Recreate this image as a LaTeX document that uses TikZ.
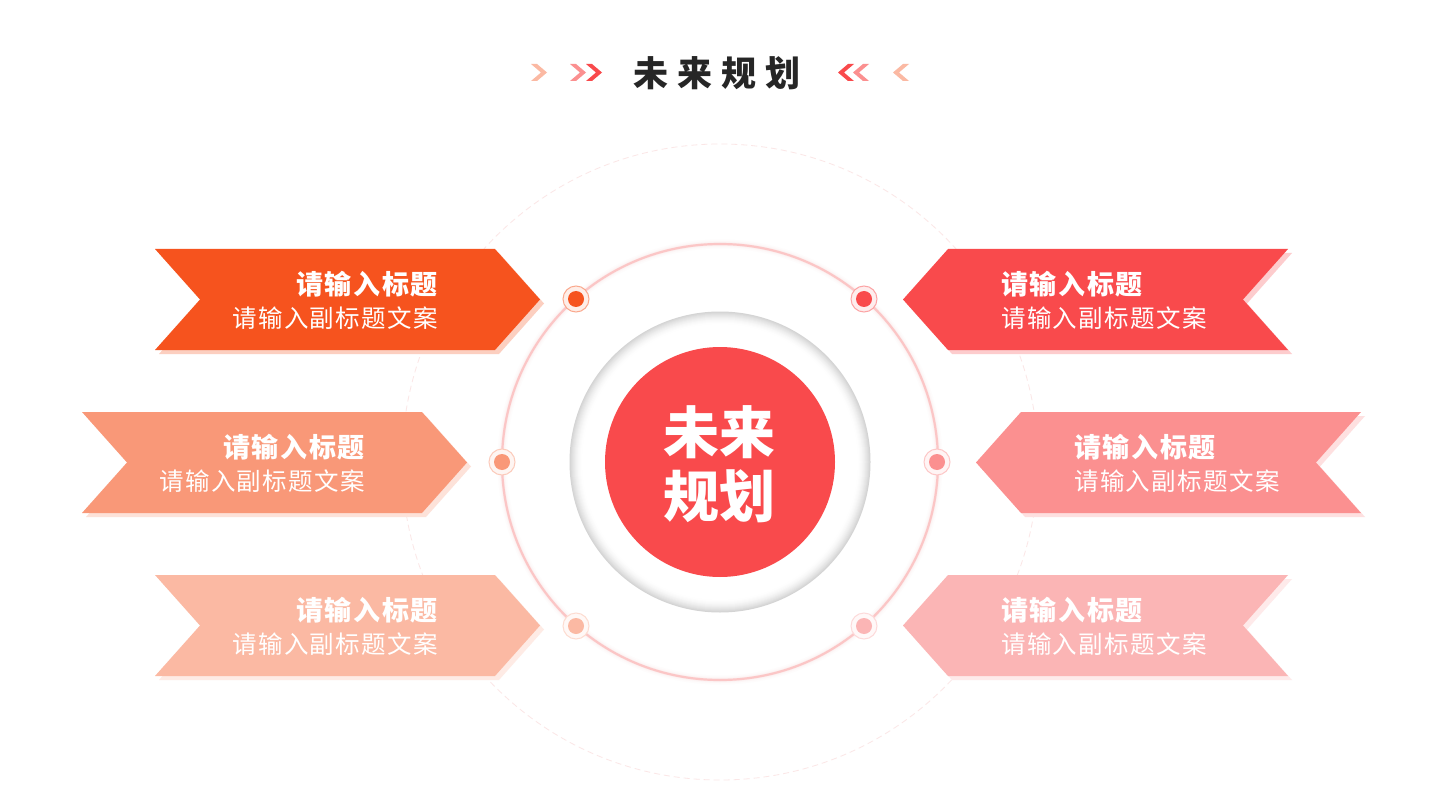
\documentclass[tikz,border=0pt]{standalone}
\usepackage{fontspec}
\newfontfamily\cjk{Noto Sans CJK SC}
\definecolor{cA}{HTML}{F6531E}
\definecolor{cB}{HTML}{F99878}
\definecolor{cC}{HTML}{FBB9A3}
\definecolor{cD}{HTML}{F94A4C}
\definecolor{cE}{HTML}{FB9090}
\definecolor{cF}{HTML}{FBB5B5}
\definecolor{ringpink}{HTML}{FBC6C6}
\definecolor{faintpink}{HTML}{FBE6E6}
\definecolor{titlegray}{HTML}{262626}
\newcommand{\ribright}[3]{% left x, top y, colour ; points right
  \fill[#3!28] ({#1+4},{#2+4}) -- ({#1+344},{#2+4}) -- ({#1+389},{#2+54.5}) -- ({#1+344},{#2+105}) -- ({#1+4},{#2+105}) -- ({#1+49},{#2+54.5}) -- cycle;
  \fill[#3] (#1,#2) -- ({#1+340},#2) -- ({#1+385},{#2+50.5}) -- ({#1+340},{#2+101}) -- (#1,{#2+101}) -- ({#1+45},{#2+50.5}) -- cycle;}
\newcommand{\ribleft}[3]{% tip x, top y, colour ; points left
  \fill[#3!28] ({#1+4},{#2+54.5}) -- ({#1+49},{#2+4}) -- ({#1+389},{#2+4}) -- ({#1+344},{#2+54.5}) -- ({#1+389},{#2+105}) -- ({#1+49},{#2+105}) -- cycle;
  \fill[#3] (#1,{#2+50.5}) -- ({#1+45},#2) -- ({#1+385},#2) -- ({#1+340},{#2+50.5}) -- ({#1+385},{#2+101}) -- ({#1+45},{#2+101}) -- cycle;}
\newcommand{\chevR}[3]{% left x, top y, colour
  \fill[#3] (#1,#2) -- ({#1+6},#2) -- ({#1+16},{#2+8.5}) -- ({#1+6},{#2+17}) -- (#1,{#2+17}) -- ({#1+10},{#2+8.5}) -- cycle;}
\newcommand{\chevL}[3]{% right x, top y, colour
  \fill[#3] (#1,#2) -- ({#1-6},#2) -- ({#1-16},{#2+8.5}) -- ({#1-6},{#2+17}) -- (#1,{#2+17}) -- ({#1-10},{#2+8.5}) -- cycle;}
\tikzset{
  ttl/.style={inner sep=0pt, text=white, font=\cjk\bfseries\fontsize{27}{27}\selectfont\addfontfeature{LetterSpace=6}},
  sub/.style={inner sep=0pt, text=white, font=\cjk\fontsize{24.5}{24.5}\selectfont\addfontfeature{LetterSpace=5.5}},
  dotouter/.style={circle, minimum size=26pt, inner sep=0pt, line width=1pt},
  dotinner/.style={circle, minimum size=16pt, inner sep=0pt},
}
\begin{document}
\begin{tikzpicture}[x=1pt,y=-1pt]
\useasboundingbox (0,0) rectangle (1440,810);
\fill[white] (0,0) rectangle (1440,810);
% header
\node[inner sep=0pt, text=titlegray, font=\cjk\bfseries\fontsize{35}{35}\selectfont] (head) at (717,73) {未\hspace{9pt}来\hspace{9pt}规\hspace{9pt}划};
\chevR{531}{64}{cC}
\chevR{570}{64}{cE}
\chevR{586}{64}{cD}
\chevL{854}{64}{cD}
\chevL{869}{64}{cE}
\chevL{909}{64}{cC}
% outer faint dashed circle
\coordinate (c) at (720,462);
\draw[faintpink, line width=0.8pt, dash pattern=on 6pt off 4pt] (c) circle[radius=318];
% pink ring with glow
\foreach \w/\o in {9/0.05,6/0.08,3.5/0.15}{\draw[ringpink, line width=\w pt, opacity=\o] (c) circle[radius=218];}
\draw[ringpink, line width=2.2pt] (c) circle[radius=218];
% grey soft ring (inner shadow)
\foreach \i in {0,...,11}{
  \pgfmathsetmacro\g{17*(1-\i/12)^1.6}
  \fill[black!\g] (c) circle[radius={150.5-\i}];
}
\fill[white] (c) circle[radius=138];
% ribbons
\ribright{155}{249}{cA}
\ribright{82}{412}{cB}
\ribright{155}{575}{cC}
\ribleft{903}{249}{cD}
\ribleft{976}{412}{cE}
\ribleft{903}{575}{cF}
% centre
\node[circle, fill=cD, minimum size=230pt, inner sep=0pt] (core) at (c) {};
\node[inner sep=0pt, text=white, font=\cjk\bfseries\fontsize{56}{56}\selectfont] (l1) at (719,432) {未来};
\node[inner sep=0pt, text=white, font=\cjk\bfseries\fontsize{56}{56}\selectfont] (l2) at (719,496) {规划};
% dots
\foreach \n/\x/\y/\col in {d1/576/299/cA, d2/502/462/cB, d3/576/626/cC, d4/864/299/cD, d5/937/462/cE, d6/864/626/cF}{
  \node[dotouter, draw=\col!50, fill=\col!10] (\n) at (\x,\y) {};
  \node[dotinner, fill=\col] at (\n) {};
}
% texts
\node[ttl, anchor=east] (t1) at (438,284) {请输入标题};
\node[sub, anchor=east] (s1) at (438,318) {请输入副标题文案};
\node[ttl, anchor=east] (t2) at (365,447) {请输入标题};
\node[sub, anchor=east] (s2) at (365,481) {请输入副标题文案};
\node[ttl, anchor=east] (t3) at (438,610) {请输入标题};
\node[sub, anchor=east] (s3) at (438,644) {请输入副标题文案};
\node[ttl, anchor=west] (t4) at (1001,284) {请输入标题};
\node[sub, anchor=west] (s4) at (1001,318) {请输入副标题文案};
\node[ttl, anchor=west] (t5) at (1074,447) {请输入标题};
\node[sub, anchor=west] (s5) at (1074,481) {请输入副标题文案};
\node[ttl, anchor=west] (t6) at (1001,610) {请输入标题};
\node[sub, anchor=west] (s6) at (1001,644) {请输入副标题文案};
\end{tikzpicture}
\end{document}
